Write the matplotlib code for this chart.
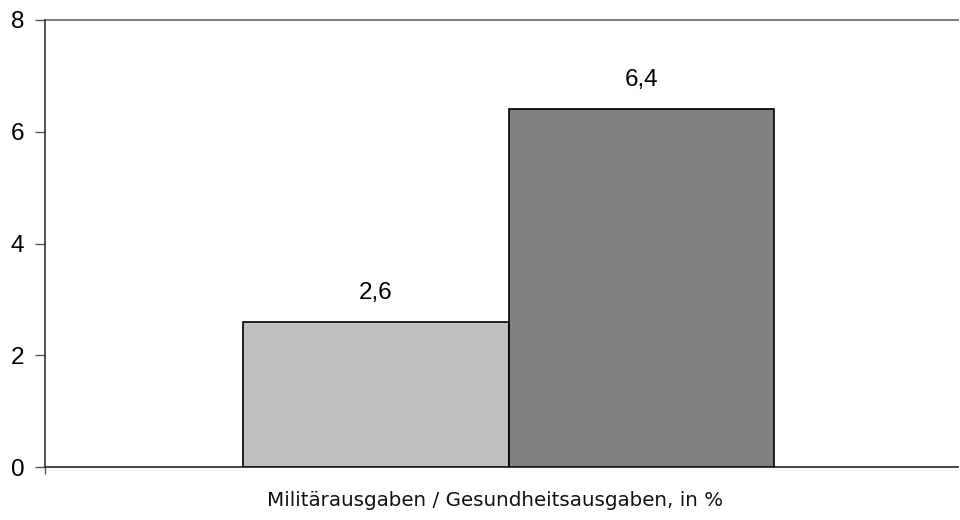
import matplotlib
matplotlib.use("Agg")
import matplotlib.pyplot as plt

categories = ["Militärausgaben", "Gesundheitsausgaben"]
values = [2.6, 6.4]
labels = ["2,6", "6,4"]
colors = ["#C0C0C0", "#808080"]
yticks = [0, 2, 4, 6, 8]
xlabel = "Militärausgaben / Gesundheitsausgaben, in %"

W, H = 960, 520
fig = plt.figure(figsize=(W / 100, H / 100), dpi=100)
left, right, top, bottom = 45, 958, 20, 467
ax = fig.add_axes([left / W, 1 - bottom / H, (right - left) / W, (bottom - top) / H])

ax.set_xlim(0, right - left)
ax.set_ylim(0, 8)
bar_left = 243 - left
bar_w = 265.5
positions = [bar_left + bar_w / 2 + i * bar_w for i in range(len(values))]
ax.bar(positions, values, width=bar_w, color=colors, edgecolor="black", linewidth=1.2, zorder=3)
for p, v, l in zip(positions, values, labels):
    ax.annotate(l, (p, v), xytext=(0, 13), textcoords="offset points", ha="center", va="bottom",
                fontsize=17.5, family="Liberation Sans", color="black")

ax.axhline(8, color="#808080", linewidth=1.5, zorder=1, clip_on=False)
for s in ["top", "right"]:
    ax.spines[s].set_visible(False)
ax.spines["left"].set_color("#333333")
ax.spines["bottom"].set_color("#222222")
ax.spines["left"].set_linewidth(1.2)
ax.spines["bottom"].set_linewidth(1.2)
ax.set_yticks(yticks)
ax.set_yticklabels([str(t) for t in yticks], fontsize=17.5, family="Liberation Sans")
ax.tick_params(axis="y", direction="out", length=7, width=1, color="#555555", pad=8)
ax.set_xticks([0])
ax.set_xticklabels([""])
ax.tick_params(axis="x", direction="out", length=5, width=1, color="#555555")
ax.set_xlabel(xlabel, fontsize=14.3, family="DejaVu Sans", color="#111111")
ax.xaxis.set_label_coords((495 - left) / (right - left), -(501 - bottom) / (bottom - top))
ax.xaxis.label.set_va("center")

fig.savefig("out.png", dpi=100)
